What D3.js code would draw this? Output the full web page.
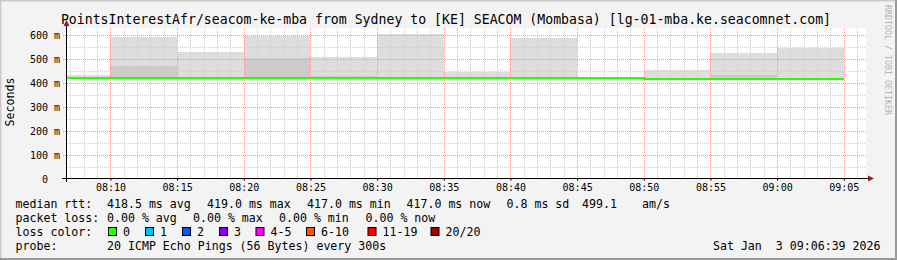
<!DOCTYPE html>
<html>
<head>
<meta charset="utf-8">
<script src="https://cdn.jsdelivr.net/npm/d3@7"></script>
<style>
body{margin:0;background:#f3f3f3;}
svg{display:block;}
text{font-family:"DejaVu Sans Mono",monospace;white-space:pre;}
</style>
</head>
<body>
<svg width="897" height="260"></svg>
<script>
// step end times (300s steps), values in ms
var stepEnds  = ["08:10","08:15","08:20","08:25","08:30","08:35","08:40","08:45","08:50","08:55","09:00","09:05"];
var medianRtt = [419, 419, 419, 419, 419, 419, 419, 419, 419, 417, 417, 417];
var smokeLow  = [417, 417, 417, 417, 417, 417, 417, 417, 417, 416, 416, 416];
var smokeMid  = [419, 472, 419, 503, 428, 419, 419, 419, 419, 417, 433, 417];
var smokeHigh = [433, 593, 530, 597, 508, 604, 447, 589, 421, 453, 525, 547];

var yTicks = [0, 100, 200, 300, 400, 500, 600];

var rttStats  = ["418.5 ms avg", "419.0 ms max", "417.0 ms min", "417.0 ms now", "0.8 ms sd", "499.1", "am/s"];
var lossStats = ["0.00 % avg", "0.00 % max", "0.00 % min", "0.00 % now"];
var lossLabels = ["0", "1", "2", "3", "4-5", "6-10", "11-19", "20/20"];
var lossColors = ["#26ff00", "#00b8ff", "#0059ff", "#7e00ff", "#ff00ff", "#ff5500", "#ff0000", "#a10000"];

var titleText = "PointsInterestAfr/seacom-ke-mba from Sydney to [KE] SEACOM (Mombasa) [lg-01-mba.ke.seacomnet.com]";
var probeText = "20 ICMP Echo Pings (56 Bytes) every 300s";
var dateText  = "Sat Jan  3 09:06:39 2026";

// layout
var plotL = 66, plotR = 866, plotT = 28, plotB = 179;
var rttX  = [107, 207, 307, 406.5, 506.5, 582, 642];
var lossX = [107, 193, 279, 365.5];
var boxX  = [108.5, 145.5, 182.5, 219.5, 256, 306.5, 368, 431];

function hm(s){
	var p = s.split(":");
	return new Date(Date.UTC(2026, 0, 3, +p[0], +p[1], 0));
}
function translate(x,y){
	return "translate("+x+","+y+")";
}
function px(v){ return Math.round(v) + 0.5; }

var tStart = new Date(Date.UTC(2026, 0, 3, 8, 6, 40));
var tEnd = new Date(tStart.getTime() + 3600*1000);

var x = d3.scaleUtc().domain([tStart, tEnd]).range([plotL, plotR]);
var y = d3.scaleLinear().domain([0, 629]).range([plotB, plotT]);

var svg = d3.select("svg");

// frame
svg.append("rect").attr("width", 897).attr("height", 260).attr("fill", "#f3f3f3");
svg.append("path").attr("d", "M0 260 V0 H897").attr("stroke", "#cbcbcb").attr("stroke-width", 3).attr("fill", "none");
svg.append("path").attr("d", "M0 259 H896 V0").attr("stroke", "#999999").attr("stroke-width", 2).attr("fill", "none");

// canvas
svg.append("rect")
	.attr("x", plotL).attr("y", plotT)
	.attr("width", plotR-plotL).attr("height", plotB-plotT)
	.attr("fill", "#ffffff");

var steps = stepEnds.map(function(s, i){
	var t1 = hm(s);
	var t0 = new Date(t1.getTime() - 300*1000);
	return {
		x0: Math.max(Math.round(x(t0)), plotL),
		x1: Math.round(x(t1)),
		med: medianRtt[i], low: smokeLow[i], mid: smokeMid[i], high: smokeHigh[i]
	};
});

// smoke
var smoke = svg.append("g");
smoke.selectAll(".hi").data(steps).enter().append("rect")
	.attr("x", function(d){ return d.x0; })
	.attr("width", function(d){ return d.x1 - d.x0; })
	.attr("y", function(d){ return Math.round(y(d.high)); })
	.attr("height", function(d){ return Math.round(y(d.low)) - Math.round(y(d.high)); })
	.attr("fill", "#dddddd");
smoke.selectAll(".mid").data(steps).enter().append("rect")
	.attr("x", function(d){ return d.x0; })
	.attr("width", function(d){ return d.x1 - d.x0; })
	.attr("y", function(d){ return Math.round(y(d.mid)); })
	.attr("height", function(d){ return Math.round(y(d.low)) - Math.round(y(d.mid)); })
	.attr("fill", "#cbcbcb");

// grid
var grid = svg.append("g").attr("fill", "none").attr("stroke-dasharray", "1,1");
var minorT = d3.utcMinute.range(tStart, tEnd).filter(function(t){ return t.getUTCMinutes() % 5 != 0; });
var majorT = d3.utcMinute.every(5).range(tStart, tEnd);
var minorV = d3.range(50, 629, 100);

grid.selectAll(".vm").data(minorT).enter().append("line")
	.attr("x1", function(d){ return px(x(d)); }).attr("x2", function(d){ return px(x(d)); })
	.attr("y1", plotT).attr("y2", plotB)
	.attr("stroke", "#cccccc");
grid.selectAll(".hm").data(minorV).enter().append("line")
	.attr("x1", plotL).attr("x2", plotR)
	.attr("y1", function(d){ return px(y(d)); }).attr("y2", function(d){ return px(y(d)); })
	.attr("stroke", "#cccccc");
grid.selectAll(".vM").data(majorT).enter().append("line")
	.attr("x1", function(d){ return px(x(d)); }).attr("x2", function(d){ return px(x(d)); })
	.attr("y1", plotT).attr("y2", plotB + 2)
	.attr("stroke", "#f29a9a");
grid.selectAll(".hM").data(yTicks.slice(1)).enter().append("line")
	.attr("x1", plotL - 3).attr("x2", plotR)
	.attr("y1", function(d){ return px(y(d)); }).attr("y2", function(d){ return px(y(d)); })
	.attr("stroke", "#f29a9a");

// median
var pts = [];
steps.forEach(function(d){
	var ym = Math.round(y(d.med));
	pts.push([d.x0, ym]); pts.push([d.x1, ym]);
});
svg.append("path")
	.attr("d", d3.line()(pts))
	.attr("fill", "none")
	.attr("stroke", lossColors[0])
	.attr("stroke-width", 2);

// axes
var xAxis = svg.append("g")
	.attr("transform", translate(0, plotB - 0.5))
	.call(d3.axisBottom(x).ticks(d3.utcMinute.every(5)).tickFormat(d3.utcFormat("%H:%M")).tickSize(2).tickPadding(3));
xAxis.select(".domain").remove();
xAxis.selectAll("text").attr("font-family", "DejaVu Sans Mono").attr("font-size", "10px").attr("fill", "#000");

var yAxis = svg.append("g")
	.attr("transform", translate(plotL, 0))
	.call(d3.axisLeft(y).tickValues(yTicks).tickFormat(function(d){ return d ? d + " m" : "0\u00a0\u00a0"; }).tickSize(0).tickPadding(6));
yAxis.select(".domain").remove();
yAxis.selectAll("text").attr("font-family", "DejaVu Sans Mono").attr("font-size", "10px").attr("fill", "#000").attr("dy", "0.36em");

svg.append("line").attr("x1", 62).attr("x2", 868).attr("y1", plotB - 0.5).attr("y2", plotB - 0.5).attr("stroke", "#000");
svg.append("line").attr("x1", plotL + 0.5).attr("x2", plotL + 0.5).attr("y1", plotB + 3).attr("y2", plotT - 2).attr("stroke", "#000");
svg.append("path").attr("d", "M868 175.5 L874 178.5 L868 181.5 Z").attr("fill", "#961e1e");
svg.append("path").attr("d", "M63.5 26 L66.5 20 L69.5 26 Z").attr("fill", "#961e1e");

// titles
svg.append("text")
	.attr("x", 446).attr("y", 24)
	.attr("text-anchor", "middle")
	.attr("font-size", "13.2px")
	.text(titleText);
svg.append("text")
	.attr("transform", translate(14, 102) + " rotate(-90)")
	.attr("text-anchor", "middle")
	.attr("font-size", "11.6px")
	.text("Seconds");
svg.append("text")
	.attr("transform", translate(885, 5) + " rotate(90)")
	.attr("font-size", "8.3px")
	.attr("fill", "#b4b4b4")
	.text("RRDTOOL / TOBI OETIKER");

// legend
var legend = svg.append("g").attr("font-size", "11.6px").attr("fill", "#000");
legend.append("text").attr("x", 15.5).attr("y", 208).text("median rtt:");
legend.selectAll(".rtt").data(rttStats).enter().append("text")
	.attr("x", function(d, i){ return rttX[i]; }).attr("y", 208)
	.text(function(d){ return d; });
legend.append("text").attr("x", 15.5).attr("y", 222).text("packet loss:");
legend.selectAll(".loss").data(lossStats).enter().append("text")
	.attr("x", function(d, i){ return lossX[i]; }).attr("y", 222)
	.text(function(d){ return d; });
legend.append("text").attr("x", 15.5).attr("y", 236).text("loss color:");
var item = legend.selectAll(".lc").data(lossLabels).enter().append("g")
	.attr("transform", function(d, i){ return translate(boxX[i], 227.5); });
item.append("rect")
	.attr("width", 8).attr("height", 8)
	.attr("fill", function(d, i){ return lossColors[i]; })
	.attr("stroke", "#000");
item.append("text").attr("x", 14.5).attr("y", 8.5).text(function(d){ return d; });
legend.append("text").attr("x", 15.5).attr("y", 249.5).text("probe:");
legend.append("text").attr("x", 107).attr("y", 249.5).text(probeText);
legend.append("text").attr("x", 880.5).attr("y", 249.5).attr("text-anchor", "end").text(dateText);
</script>
</body>
</html>
